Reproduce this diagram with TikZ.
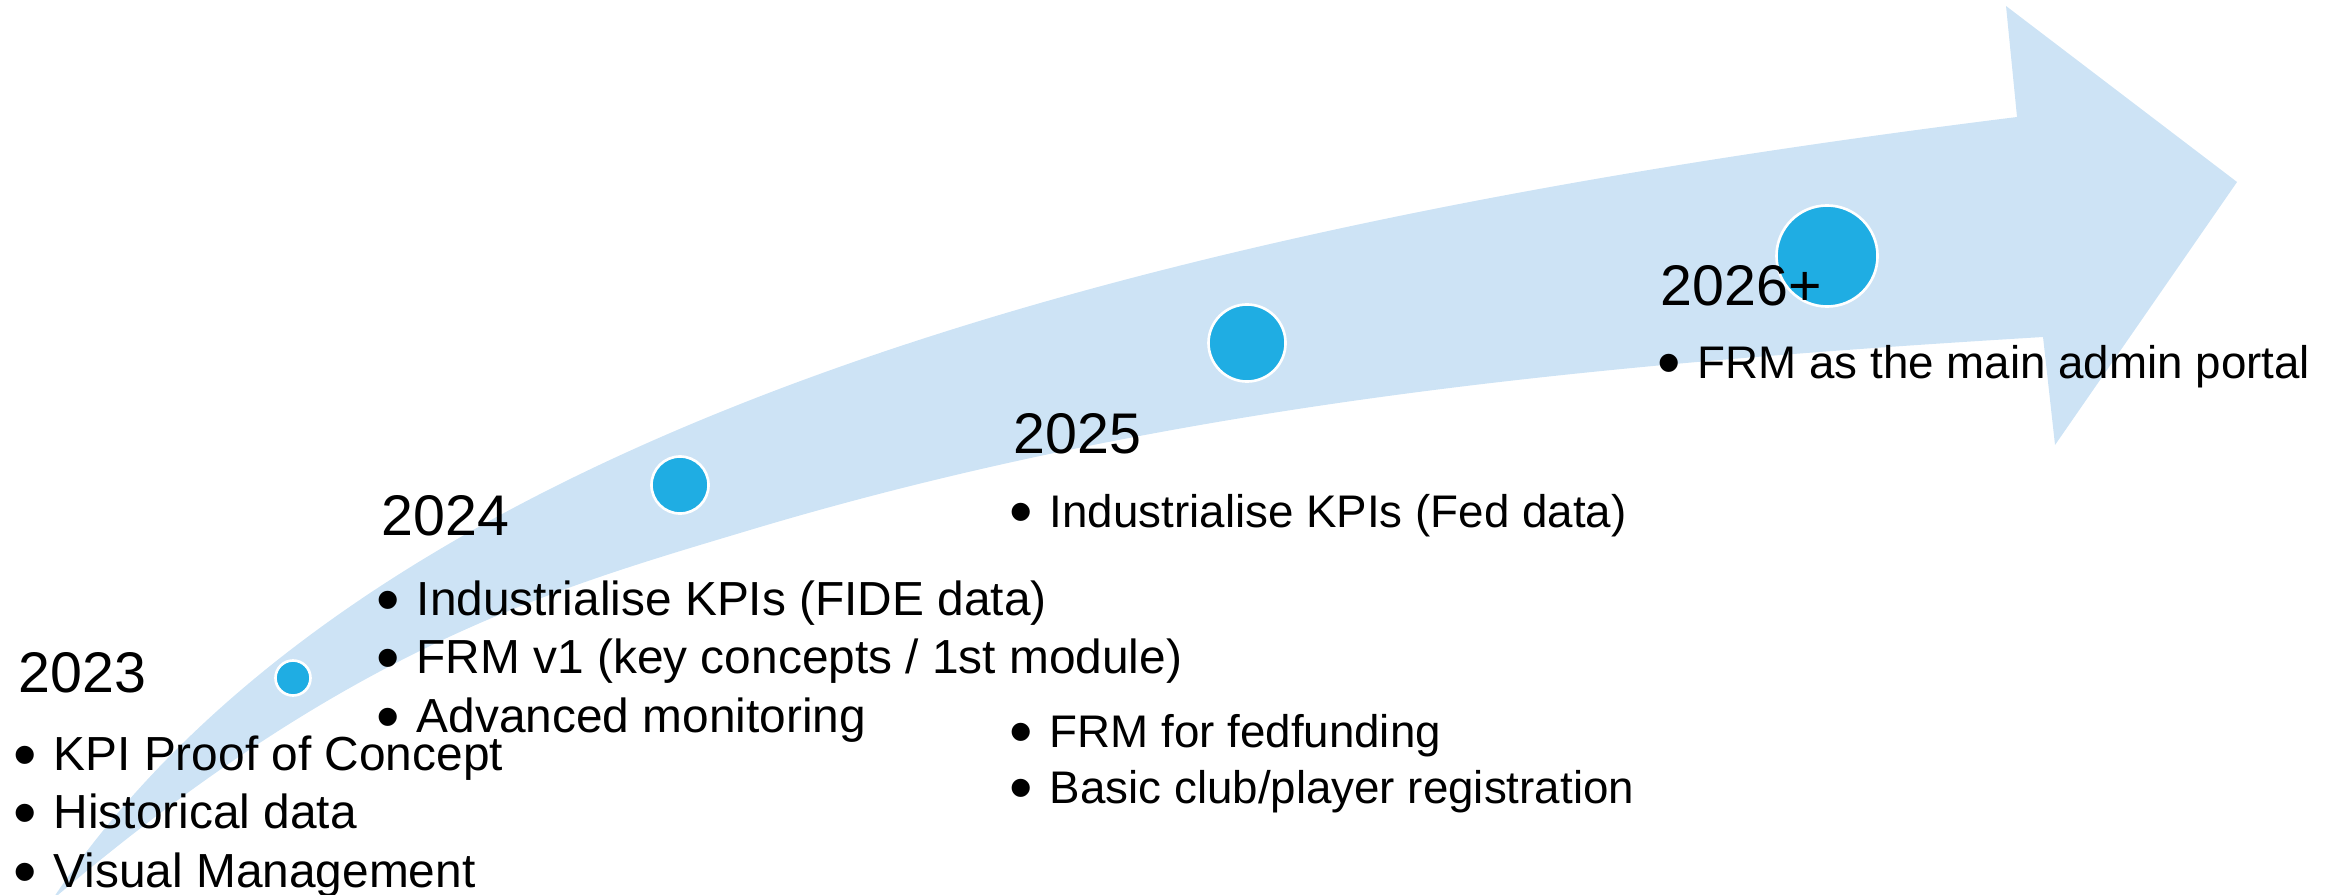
\documentclass[tikz,border=0pt]{standalone}
\usepackage{fontspec}
\setmainfont{Liberation Sans}
\definecolor{bandc}{HTML}{CDE3F5}
\definecolor{dotc}{HTML}{1FADE3}
\newcommand{\itm}[1]{\llap{\makebox[0.40cm][l]{\raisebox{-2pt}{\fontsize{19}{19}\selectfont\textbullet}}}#1}
\begin{document}
\begin{tikzpicture}[x=0.01cm, y=-0.01cm,
  year/.style={anchor=base west, inner sep=0pt, font=\fontsize{16.3}{16.3}\selectfont},
  item/.style={anchor=base west, inner sep=0pt, font=\fontsize{13.6}{13.6}\selectfont},
  itemb/.style={anchor=base west, inner sep=0pt, font=\fontsize{13}{13}\selectfont},
  dot/.style={circle, fill=dotc, draw=white, line width=0.75pt, inner sep=0pt}]
\useasboundingbox (0,0) rectangle (2331,894);
\clip (0,0) rectangle (2331,894);
% curved arrow band
\fill[bandc] (52,900) .. controls (372,420) and (1167,223) .. (2017,117)
  -- (2006,6) -- (2237,182) -- (2055,445) -- (2043,337)
  .. controls (1613,363) and (1180,401) .. (750,530)
  .. controls (550,590) and (352,645) .. (52,900) -- cycle;
% milestones
\node[dot, minimum size=0.35cm] (c1) at (293,678) {};
\node[dot, minimum size=0.57cm] (c2) at (680,485) {};
\node[dot, minimum size=0.77cm] (c3) at (1247,343) {};
\node[dot, minimum size=1.01cm] (c4) at (1827,256) {};
% 2023
\node[year] (y1) at (18,692) {2023};
\node[item] (a1) at (53,770) {\itm{KPI Proof of Concept}};
\node[item] (a2) at (53,828) {\itm{Historical data}};
\node[item] (a3) at (53,887) {\itm{Visual Management}};
% 2024
\node[year] (y2) at (381,535) {2024};
\node[item] (b1) at (416,615) {\itm{Industrialise KPIs (FIDE data)}};
\node[item] (b2) at (416,673) {\itm{FRM v1 (key concepts / 1st module)}};
\node[item] (b3) at (416,732) {\itm{Advanced monitoring}};
% 2025
\node[year] (y3) at (1013,453) {2025};
\node[itemb] (d1) at (1049,527) {\itm{Industrialise KPIs (Fed data)}};
\node[itemb] (d2) at (1049,747) {\itm{FRM for fedfunding}};
\node[itemb] (d3) at (1049,803) {\itm{Basic club/player registration}};
% 2026+
\node[year] (y4) at (1660,305) {2026+};
\node[itemb] (e1) at (1697,378) {\itm{FRM as the main admin portal}};
\end{tikzpicture}
\end{document}
